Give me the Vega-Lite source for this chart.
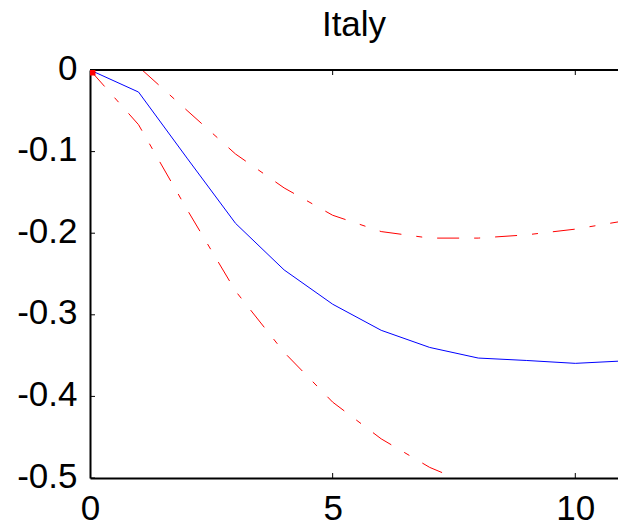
{
  "$schema": "https://vega.github.io/schema/vega-lite/v6.json",
  "width": 528,
  "height": 408,
  "autosize": {"type": "none"},
  "padding": {"left": 90, "top": 70, "right": 0, "bottom": 46},
  "background": "white",
  "title": {"text": "Italy", "font": "Liberation Sans", "fontSize": 35, "fontWeight": "normal", "color": "black", "anchor": "middle", "baseline": "top", "offset": 8},
  "config": {
    "view": {"stroke": null},
    "axis": {"grid": false, "ticks": false, "labelFont": "Liberation Sans", "labelFontSize": 35, "labelColor": "black", "domainColor": "black", "domainWidth": 2, "title": null}
  },
  "datasets": {
    "irf": [
      {"x": 0, "series": "mid", "y": 0},
      {"x": 1, "series": "mid", "y": -0.027},
      {"x": 2, "series": "mid", "y": -0.108},
      {"x": 3, "series": "mid", "y": -0.188},
      {"x": 4, "series": "mid", "y": -0.245},
      {"x": 5, "series": "mid", "y": -0.287},
      {"x": 6, "series": "mid", "y": -0.319},
      {"x": 7, "series": "mid", "y": -0.34},
      {"x": 8, "series": "mid", "y": -0.353},
      {"x": 9, "series": "mid", "y": -0.356},
      {"x": 10, "series": "mid", "y": -0.3595},
      {"x": 11, "series": "mid", "y": -0.3565},
      {"x": 0, "series": "upper", "y": 0.03},
      {"x": 1, "series": "upper", "y": 0.004},
      {"x": 2, "series": "upper", "y": -0.0496},
      {"x": 3, "series": "upper", "y": -0.103},
      {"x": 4, "series": "upper", "y": -0.1445},
      {"x": 5, "series": "upper", "y": -0.178},
      {"x": 6, "series": "upper", "y": -0.198},
      {"x": 7, "series": "upper", "y": -0.206},
      {"x": 8, "series": "upper", "y": -0.206},
      {"x": 9, "series": "upper", "y": -0.202},
      {"x": 10, "series": "upper", "y": -0.195},
      {"x": 11, "series": "upper", "y": -0.185},
      {"x": 0, "series": "lower", "y": 0},
      {"x": 1, "series": "lower", "y": -0.067},
      {"x": 2, "series": "lower", "y": -0.171},
      {"x": 3, "series": "lower", "y": -0.271},
      {"x": 4, "series": "lower", "y": -0.346},
      {"x": 5, "series": "lower", "y": -0.407},
      {"x": 6, "series": "lower", "y": -0.452},
      {"x": 7, "series": "lower", "y": -0.487},
      {"x": 8, "series": "lower", "y": -0.512},
      {"x": 9, "series": "lower", "y": -0.53},
      {"x": 10, "series": "lower", "y": -0.542},
      {"x": 11, "series": "lower", "y": -0.548}
    ],
    "origin": [{"x": 0, "y": 0}],
    "xticks": [
      {"x": 0, "y": -0.5}, {"x": 5, "y": -0.5}, {"x": 10, "y": -0.5},
      {"x": 5, "y": 0}, {"x": 10, "y": 0}
    ],
    "yticks": [
      {"x": 0, "y": 0}, {"x": 0, "y": -0.1}, {"x": 0, "y": -0.2},
      {"x": 0, "y": -0.3}, {"x": 0, "y": -0.4}, {"x": 0, "y": -0.5}
    ]
  },
  "layer": [
    {
      "data": {"name": "irf"},
      "transform": [{"filter": "datum.series === 'mid'"}],
      "mark": {"type": "line", "color": "#0000ff", "strokeWidth": 1, "clip": true},
      "encoding": {
        "x": {"field": "x", "type": "quantitative", "scale": {"domain": [0, 10.88], "nice": false, "zero": false},
          "axis": {"orient": "bottom", "values": [0, 5, 10], "labelPadding": 13, "labelFlush": false, "labelExpr": "toString(datum.value)"}},
        "y": {"field": "y", "type": "quantitative", "scale": {"domain": [-0.5, 0], "nice": false, "zero": false},
          "axis": {"orient": "left", "values": [0, -0.1, -0.2, -0.3, -0.4, -0.5], "labelPadding": 13, "labelOffset": -2, "labelFlush": false, "labelExpr": "toString(round(datum.value * 10) / 10)"}}
      }
    },
    {
      "data": {"name": "irf"},
      "transform": [{"filter": "datum.series === 'upper'"}],
      "mark": {"type": "line", "color": "#ff0000", "strokeWidth": 1, "strokeDash": [22, 15, 6, 15], "clip": true},
      "encoding": {
        "x": {"field": "x", "type": "quantitative"},
        "y": {"field": "y", "type": "quantitative"}
      }
    },
    {
      "data": {"name": "irf"},
      "transform": [{"filter": "datum.series === 'lower'"}],
      "mark": {"type": "line", "color": "#ff0000", "strokeWidth": 1, "strokeDash": [22, 15, 6, 15], "clip": true},
      "encoding": {
        "x": {"field": "x", "type": "quantitative"},
        "y": {"field": "y", "type": "quantitative"}
      }
    },
    {
      "data": {"name": "origin"},
      "mark": {"type": "rule", "color": "black", "strokeWidth": 2},
      "encoding": {
        "x": {"datum": 0, "type": "quantitative"},
        "x2": {"datum": 10.88},
        "y": {"field": "y", "type": "quantitative"}
      }
    },
    {
      "data": {"name": "xticks"},
      "mark": {"type": "tick", "orient": "vertical", "color": "black", "size": 10, "thickness": 1, "opacity": 1, "clip": true},
      "encoding": {
        "x": {"field": "x", "type": "quantitative"},
        "y": {"field": "y", "type": "quantitative"}
      }
    },
    {
      "data": {"name": "yticks"},
      "mark": {"type": "tick", "orient": "horizontal", "color": "black", "size": 10, "thickness": 1, "opacity": 1, "clip": true},
      "encoding": {
        "x": {"field": "x", "type": "quantitative"},
        "y": {"field": "y", "type": "quantitative"}
      }
    },
    {
      "data": {"name": "origin"},
      "mark": {"type": "point", "shape": "square", "filled": true, "color": "#ff0000", "size": 121, "opacity": 1, "clip": true},
      "encoding": {
        "x": {"field": "x", "type": "quantitative"},
        "y": {"field": "y", "type": "quantitative"}
      }
    }
  ]
}
